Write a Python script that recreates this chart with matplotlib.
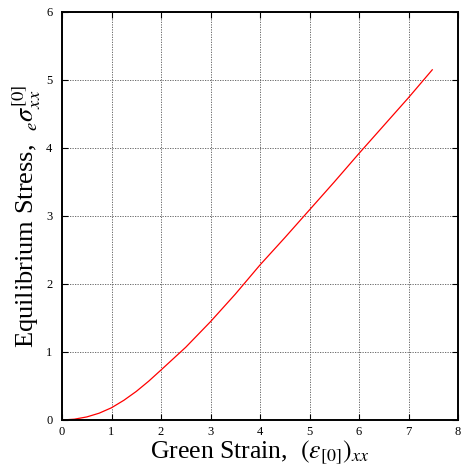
import matplotlib
matplotlib.use("Agg")
import matplotlib.pyplot as plt

strain = [0.0, 0.25, 0.5, 0.75, 1.0, 1.25, 1.5, 1.75, 2.0, 2.5, 3.0, 3.5, 4.0, 4.5, 5.0, 5.5, 6.0, 6.5, 7.0, 7.48]
stress = [0.0, 0.012, 0.045, 0.10, 0.18, 0.29, 0.42, 0.57, 0.735, 1.07, 1.446, 1.85, 2.28, 2.68, 3.09, 3.50, 3.92, 4.33, 4.74, 5.15]
xticks = [0, 1, 2, 3, 4, 5, 6, 7, 8]
yticks = [0, 1, 2, 3, 4, 5, 6]

plt.rcParams['font.family'] = ['Liberation Serif', 'DejaVu Serif']
plt.rcParams['mathtext.fontset'] = 'stix'

fig = plt.figure(figsize=(4.61, 4.67), dpi=100)
ax = fig.add_axes([62/461, 47/467, 396/461, 408/467])
ax.plot(strain, stress, color='red', lw=0.9)
ax.set_xlim(0, 8)
ax.set_ylim(0, 6)
ax.set_xticks(xticks)
ax.set_yticks(yticks)
ax.grid(True, color='#555555', linestyle=(0, (1.5, 1.5)), lw=0.6)
ax.tick_params(axis='x', direction='in', top=True, length=4, width=0.8, labelsize=9, pad=4)
ax.tick_params(axis='y', direction='in', right=True, length=4, width=0.8, labelsize=9, pad=7)
for s in ax.spines.values():
    s.set_linewidth(1.4)
ax.set_xlabel(r'Green Strain,  $(\varepsilon_{[0]})_{xx}$', fontsize=18.5, labelpad=1)
ax.set_ylabel(r'Equilibrium Stress,  ${}_{e}\sigma_{xx}^{[0]}$', fontsize=19, labelpad=2)
fig.savefig('out.png', dpi=100)
